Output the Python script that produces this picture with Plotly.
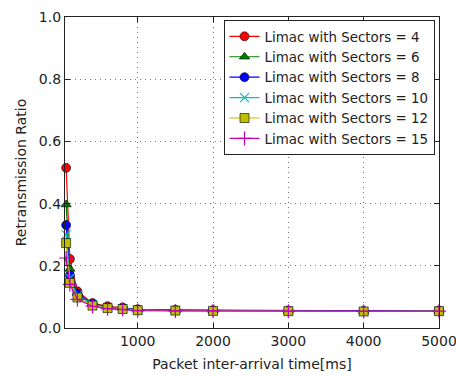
import plotly.graph_objects as go

# Packet inter-arrival times (ms)
inter_arrival = [50, 100, 200, 400, 600, 800, 1000, 1500, 2000, 3000, 4000, 5000]

# Retransmission ratio per sector count
ratio_s4 = [0.515, 0.222, 0.118, 0.080, 0.070, 0.066, 0.060, 0.058, 0.057, 0.056, 0.055, 0.056]
ratio_s6 = [0.397, 0.190, 0.112, 0.078, 0.068, 0.064, 0.059, 0.057, 0.056, 0.055, 0.054, 0.055]
ratio_s8 = [0.331, 0.170, 0.110, 0.077, 0.067, 0.063, 0.058, 0.057, 0.056, 0.055, 0.054, 0.055]
ratio_s10 = [0.300, 0.160, 0.105, 0.076, 0.066, 0.062, 0.058, 0.056, 0.055, 0.055, 0.053, 0.055]
ratio_s12 = [0.273, 0.145, 0.098, 0.072, 0.064, 0.061, 0.057, 0.056, 0.055, 0.054, 0.053, 0.054]
ratio_s15 = [0.225, 0.140, 0.092, 0.070, 0.062, 0.060, 0.056, 0.055, 0.055, 0.054, 0.053, 0.054]

series_names = ["Limac with Sectors = 4", "Limac with Sectors = 6", "Limac with Sectors = 8",
                "Limac with Sectors = 10", "Limac with Sectors = 12", "Limac with Sectors = 15"]

styles = [
    ("#ff0000", "circle", 9, 0.6),
    ("#008000", "triangle-up", 9, 0.6),
    ("#0000ff", "circle", 9, 0.6),
    ("#00bfbf", "x-thin-open", 9, 1.2),
    ("#bfbf00", "square", 9, 0.6),
    ("#bf00bf", "cross-thin-open", 10, 1.2),
]

fig = go.Figure()
for name, ys, (color, symbol, size, lw) in zip(
        series_names,
        [ratio_s4, ratio_s6, ratio_s8, ratio_s10, ratio_s12, ratio_s15],
        styles):
    open_marker = symbol.endswith("open")
    fig.add_trace(go.Scatter(
        x=inter_arrival, y=ys, name=name, mode="lines+markers",
        line=dict(color=color, width=1.2),
        marker=dict(symbol=symbol, size=size, color=color,
                    line=dict(color=color if open_marker else "black", width=lw)),
        cliponaxis=False,
    ))

axis_common = dict(
    showline=True, linecolor="#222", linewidth=1.3, mirror="ticks",
    ticks="inside", ticklen=5, tickcolor="#222",
    showgrid=True, gridcolor="#777", griddash="1px,4px", gridwidth=1,
    zeroline=False, ticklabeloverflow="allow", automargin=False,
    tickfont=dict(family="DejaVu Sans", size=14, color="#222"),
)

fig.update_xaxes(range=[35, 5000], tickvals=[1000, 2000, 3000, 4000, 5000],
                 title=dict(text="Packet inter-arrival time[ms]",
                            font=dict(family="DejaVu Sans", size=14, color="#222"),
                            standoff=11),
                 **axis_common)
fig.update_yaxes(range=[0, 1.0], tickvals=[0, 0.2, 0.4, 0.6, 0.8, 1.0], tickformat=".1f",
                 title=dict(text="Retransmission Ratio",
                            font=dict(family="DejaVu Sans", size=14, color="#222"),
                            standoff=8),
                 **axis_common)

fig.update_layout(
    width=456, height=376,
    margin=dict(l=65, r=17, t=17, b=48),
    paper_bgcolor="white", plot_bgcolor="white",
    font=dict(family="DejaVu Sans", color="#222"),
    legend=dict(x=0.988, y=0.99, xanchor="right", yanchor="top",
                bgcolor="white", bordercolor="#222", borderwidth=1,
                font=dict(family="DejaVu Sans", size=13.4, color="#222"),
                itemwidth=30, tracegroupgap=0),
    showlegend=True,
)

fig.write_html("out.html")
